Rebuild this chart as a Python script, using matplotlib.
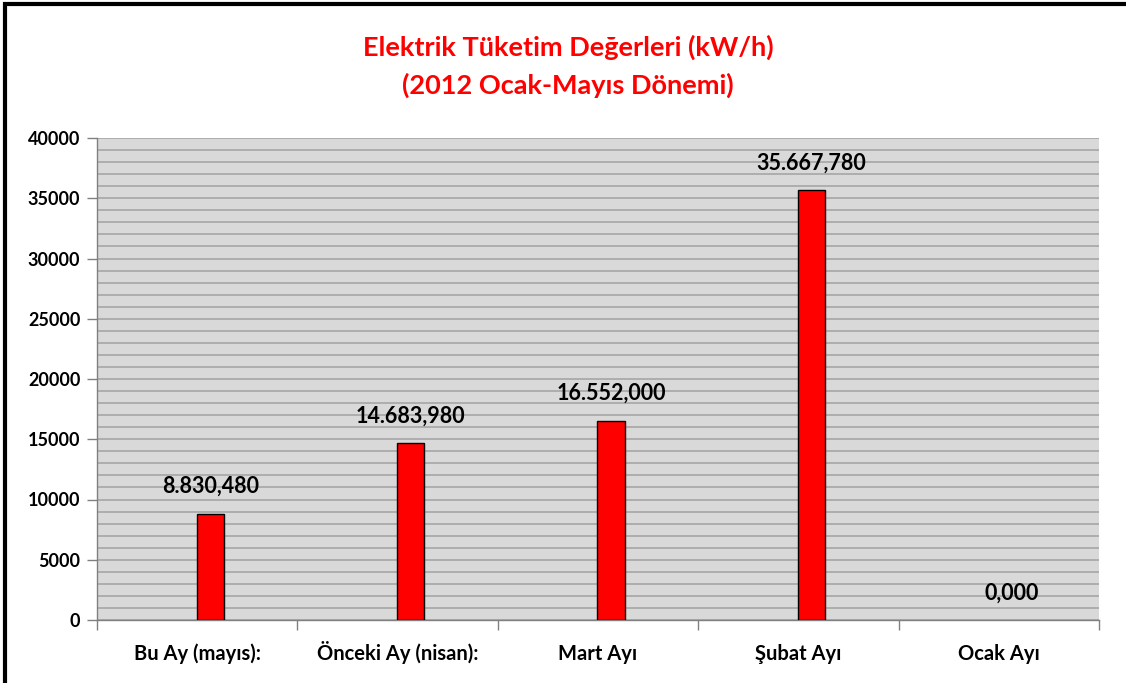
import matplotlib
matplotlib.use("Agg")
import matplotlib.pyplot as plt
from matplotlib.patches import Rectangle

categories = ["Bu Ay (mayıs):", "Önceki Ay (nisan):", "Mart Ayı", "Şubat Ayı", "Ocak Ayı"]
values = [8830.480, 14683.980, 16552.000, 35667.780, 0.000]
value_labels = ["8.830,480", "14.683,980", "16.552,000", "35.667,780", "0,000"]
yticks = [0, 5000, 10000, 15000, 20000, 25000, 30000, 35000, 40000]

plt.rcParams['font.family'] = ['Lato', 'DejaVu Sans']

fig = plt.figure(figsize=(11.26, 6.83), dpi=100)
fig.patch.set_facecolor('white')

# outer frame
fig.patches.append(Rectangle((5/1126, -0.05), 1.2, 1 - 4/683 + 0.05, transform=fig.transFigure,
                             fill=False, edgecolor='black', linewidth=3, zorder=0))

ax = fig.add_axes([97/1126, 1 - 620/683, (1099 - 97)/1126, (620 - 138)/683])
ax.set_facecolor('#d9d9d9')

x = list(range(len(categories)))
offset = 0.065
bx = [xi + offset for xi in x]
lws = [1 if v > 0 else 0 for v in values]
ax.bar(bx, values, width=0.135, color='#ff0000', edgecolor='black', linewidth=lws, zorder=3)

for xi, v, lab in zip(bx, values, value_labels):
    ax.annotate(lab, (xi, v), xytext=(0, 12), textcoords='offset points',
                ha='center', va='bottom', fontsize=15.5, fontweight='bold', color='black')

ax.set_xlim(-0.5, len(categories) - 0.5)
ax.set_ylim(0, 40000)
ax.set_yticks(yticks)
ax.set_yticklabels([str(t) for t in yticks], fontsize=13, fontweight='bold')
ax.set_yticks(range(0, 40001, 1000), minor=True)
ax.grid(axis='y', which='both', color='#a6a6a6', linewidth=1.2, zorder=1)
ax.set_axisbelow(True)

ax.set_xticks(x)
ax.set_xticklabels(categories, fontsize=14.5, fontweight='bold')
for t in ax.get_xticklabels():
    t.set_va('baseline')
ax.tick_params(axis='x', which='major', length=0, pad=29)
ax.set_xticks([i - 0.5 for i in range(len(categories) + 1)], minor=True)
ax.tick_params(axis='x', which='minor', length=7, color='#808080', width=1)
ax.tick_params(axis='y', which='major', length=7, color='#808080', width=1, pad=5)
ax.tick_params(axis='y', which='minor', length=0)

for s in ['top', 'right']:
    ax.spines[s].set_visible(False)
for s in ['left', 'bottom']:
    ax.spines[s].set_color('#808080')
    ax.spines[s].set_linewidth(1)

fig.text(568/1126, 1 - 47/683, "Elektrik Tüketim Değerleri (kW/h)", ha='center', va='center',
         fontsize=19.5, fontweight='bold', color='#ff0000')
fig.text(568/1126, 1 - 85/683, "(2012 Ocak-Mayıs Dönemi)", ha='center', va='center',
         fontsize=19.5, fontweight='bold', color='#ff0000')

fig.savefig("out.png", dpi=100)
